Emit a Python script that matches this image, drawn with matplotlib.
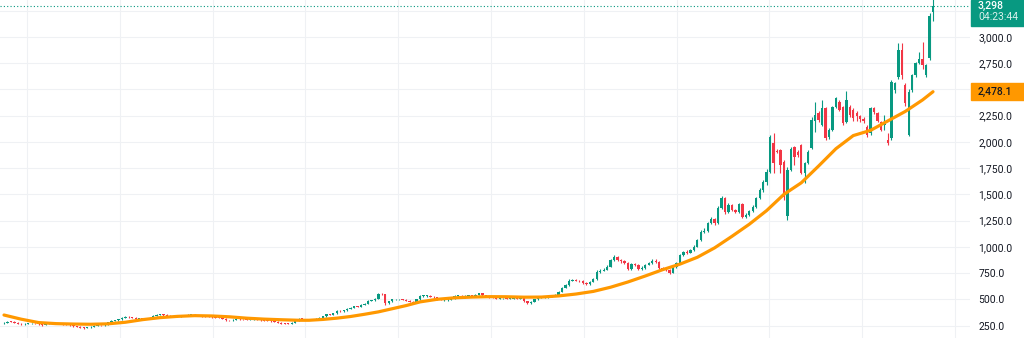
import numpy as np
import matplotlib.pyplot as plt
from matplotlib.patches import Rectangle
from matplotlib.ticker import FuncFormatter

# OHLC candles, oldest first
opens = [
    272, 277, 287, 284, 275, 265, 262, 266, 270, 272, 270, 262, 255, 268, 272, 268, 266, 267, 263, 258,
    253, 245, 239, 230, 227, 233, 236, 249, 253, 251, 262, 280, 296, 300, 310, 322, 332, 329, 322, 316,
    319, 316, 314, 326, 341, 354, 357, 350, 345, 338, 335, 338, 342,
    345, 351, 351, 347, 342, 338, 336, 332, 328, 325, 322, 316, 302, 299, 304, 313, 311, 308, 306, 306,
    308, 306, 301, 297, 294, 292, 287, 275, 268, 267, 266, 274, 294, 313, 311, 306, 304, 310, 316, 325,
    338, 357, 352, 366, 389, 384, 395, 408, 420, 434, 430, 447, 459, 485, 491,
    503, 551, 548, 460, 482, 500, 500, 500, 494, 487, 478, 468, 500, 532, 532, 532, 526, 519, 500, 494,
    494, 494, 510, 532, 532, 519, 532, 538, 532, 545, 557, 538, 526, 519, 513, 506, 510, 510, 506, 506,
    510, 506, 510, 481, 462, 475, 500, 519, 519, 519, 526, 538, 545, 570, 608,
    634, 678, 684, 678, 672, 653, 646, 665, 691, 764, 773, 780, 811, 870, 900, 875, 862, 850, 790, 837,
    827, 786, 800, 830, 849, 868, 860, 800, 786, 780, 755, 805, 843, 919, 951, 945, 970, 1002, 1065, 1145,
    1154, 1225, 1263, 1225, 1370, 1466, 1330, 1400, 1351, 1332, 1409, 1285, 1300, 1340, 1380, 1466,
    1540, 1618, 1716, 1987, 1915, 1923, 1812, 1290, 1732, 1955, 1907, 1971, 1700, 1796, 1940, 2200, 2272,
    2161, 2320, 2044, 2114, 2336, 2384, 2336, 2193, 2336, 2304, 2272, 2247, 2215, 2145, 2082, 2320, 2272,
    2193, 2160, 2018, 2034, 2495, 2622, 2876, 2543, 2066, 2495, 2638, 2749, 2787, 2638, 2797, 3241,
]
highs = [
    283, 292, 293, 289, 279, 270, 271, 275, 277, 277, 275, 266, 273, 277, 277, 273, 272, 271, 268, 262,
    257, 250, 243, 235, 238, 241, 254, 258, 258, 267, 285, 301, 306, 316, 328, 338, 337, 334, 327, 325,
    324, 321, 331, 346, 360, 364, 362, 355, 350, 343, 343, 347, 350,
    356, 357, 356, 352, 347, 343, 341, 337, 333, 330, 327, 320, 307, 309, 318, 318, 316, 313, 312, 313,
    313, 311, 306, 302, 299, 297, 291, 279, 273, 272, 279, 299, 318, 318, 316, 311, 315, 321, 330, 343,
    362, 362, 371, 395, 394, 400, 413, 426, 440, 439, 452, 465, 491, 497, 509,
    560, 556, 553, 488, 506, 506, 506, 505, 499, 492, 483, 505, 538, 538, 538, 537, 531, 524, 505, 500,
    500, 515, 538, 538, 537, 538, 544, 543, 551, 564, 562, 543, 531, 524, 518, 515, 516, 515, 512, 515,
    515, 515, 515, 486, 480, 505, 524, 525, 525, 531, 543, 551, 576, 615, 642,
    690, 695, 692, 686, 680, 660, 672, 700, 775, 790, 795, 822, 885, 925, 910, 885, 872, 858, 845, 848,
    835, 815, 838, 860, 880, 880, 866, 808, 795, 788, 812, 852, 930, 962, 965, 980, 1015, 1075, 1160, 1175,
    1240, 1280, 1275, 1385, 1480, 1475, 1415, 1412, 1365, 1420, 1420, 1320, 1355, 1395, 1475, 1560,
    1640, 1740, 2066, 2085, 1930, 1935, 1830, 1764, 1950, 1960, 1925, 1980, 1810, 1920, 2240, 2384, 2290,
    2400, 2330, 2130, 2345, 2431, 2400, 2345, 2488, 2350, 2320, 2290, 2260, 2240, 2160, 2330, 2330, 2285,
    2200, 2257, 2082, 2590, 2574, 2940, 2940, 2560, 2500, 2650, 2760, 2860, 2955, 2740, 3225, 3360,
]
lows = [
    268, 273, 280, 271, 260, 257, 258, 262, 266, 265, 257, 250, 251, 264, 263, 261, 262, 258, 253, 248,
    240, 234, 225, 221, 222, 229, 232, 245, 246, 247, 258, 276, 291, 296, 305, 318, 324, 317, 311, 311,
    311, 309, 310, 322, 337, 349, 345, 340, 333, 330, 330, 333, 337,
    340, 345, 342, 337, 333, 331, 327, 323, 320, 317, 311, 297, 294, 295, 300, 306, 303, 301, 300, 301,
    301, 296, 292, 289, 287, 282, 270, 263, 262, 261, 262, 270, 290, 306, 301, 299, 300, 306, 312, 321,
    334, 347, 348, 362, 379, 380, 391, 404, 416, 425, 426, 443, 455, 480, 487,
    498, 540, 450, 455, 478, 494, 494, 489, 482, 473, 462, 464, 496, 526, 526, 521, 514, 495, 489, 488,
    488, 490, 506, 526, 514, 514, 527, 527, 527, 540, 533, 521, 514, 508, 501, 501, 504, 501, 500, 501,
    501, 501, 476, 455, 457, 471, 496, 513, 513, 515, 522, 534, 541, 566, 603,
    628, 670, 670, 664, 645, 638, 640, 660, 686, 755, 765, 775, 805, 862, 865, 850, 840, 775, 782, 815,
    775, 776, 792, 822, 840, 850, 792, 775, 770, 745, 750, 800, 838, 912, 935, 938, 962, 995, 1055, 1135,
    1145, 1215, 1210, 1215, 1360, 1315, 1320, 1340, 1320, 1325, 1270, 1270, 1290, 1330, 1370, 1455,
    1520, 1590, 1700, 1700, 1890, 1700, 1446, 1256, 1720, 1780, 1860, 1690, 1605, 1790, 1930, 2090, 2190,
    2150, 2018, 2030, 2100, 2320, 2290, 2160, 2180, 2240, 2200, 2200, 2190, 2180, 2050, 2070, 2270, 2190,
    2100, 2114, 1970, 2018, 2470, 2600, 2600, 2340, 2060, 2480, 2620, 2740, 2690, 2622, 2780, 3155,
]
closes = [
    277, 287, 284, 275, 265, 262, 266, 270, 272, 270, 262, 255, 268, 272, 268, 266, 267, 263, 258, 253,
    245, 239, 230, 227, 233, 236, 249, 253, 251, 262, 280, 296, 300, 310, 322, 332, 329, 322, 316, 319,
    316, 314, 326, 341, 354, 357, 350, 345, 338, 335, 338, 342, 345,
    351, 351, 347, 342, 338, 336, 332, 328, 325, 322, 316, 302, 299, 304, 313, 311, 308, 306, 306, 308,
    306, 301, 297, 294, 292, 287, 275, 268, 267, 266, 274, 294, 313, 311, 306, 304, 310, 316, 325, 338,
    357, 352, 366, 389, 384, 395, 408, 420, 434, 430, 447, 459, 485, 491, 503,
    551, 548, 460, 482, 500, 500, 500, 494, 487, 478, 468, 500, 532, 532, 532, 526, 519, 500, 494, 494,
    494, 510, 532, 532, 519, 532, 538, 532, 545, 557, 538, 526, 519, 513, 506, 510, 510, 506, 506, 510,
    506, 510, 481, 462, 475, 500, 519, 519, 519, 526, 538, 545, 570, 608, 634,
    678, 684, 678, 672, 653, 646, 665, 691, 764, 773, 780, 811, 870, 900, 875, 862, 850, 790, 837, 827,
    786, 800, 830, 849, 868, 860, 800, 786, 780, 755, 805, 843, 919, 951, 945, 970, 1002, 1065, 1145, 1154,
    1225, 1263, 1225, 1370, 1466, 1330, 1400, 1351, 1332, 1409, 1285, 1300, 1340, 1380, 1466, 1540,
    1618, 1716, 2050, 1796, 1900, 1780, 1478, 1732, 1929, 1859, 1875, 1701, 1796, 1907, 2209, 2260, 2209,
    2320, 2034, 2114, 2336, 2415, 2304, 2177, 2400, 2257, 2225, 2247, 2215, 2200, 2066, 2320, 2288, 2200,
    2114, 2180, 1990, 2574, 2558, 2876, 2638, 2368, 2480, 2638, 2749, 2787, 2733, 2733, 3200, 3298,
]

# moving average, sampled at candle indices
ma_idx = [0, 5, 10, 15, 20, 25, 30, 35, 40, 45, 50, 55, 60, 65, 70, 75, 80, 85, 88, 92, 96, 100, 104,
          108, 112, 116, 120, 125, 130, 135, 140, 145, 150, 155, 160, 165, 170, 175, 180, 185, 190, 195,
          200, 205, 210, 215, 220, 225, 230, 235, 240, 245, 250, 255, 260, 265, 268]
ma_val = [350, 310, 278, 268, 264, 262, 266, 281, 306, 325, 337, 344, 341, 333, 320, 311, 305, 300, 300,
          308, 320, 336, 357, 380, 410, 440, 475, 500, 514, 521, 525, 524, 520, 521, 532, 550, 575, 615,
          665, 722, 782, 835, 900, 990, 1100, 1215, 1345, 1500, 1610, 1770, 1935, 2060, 2110, 2200, 2290,
          2400, 2478.1]

grid_prices = list(range(250, 3251, 250))
label_prices = [250, 500, 750, 1000, 1250, 1500, 1750, 2000, 2250, 2750, 3000]
last_price = 3298
countdown = "04:23:44"
ma_last = 2478.1

UP = "#089981"
DOWN = "#F23645"
MA = "#FF9800"
TEXT = "#131722"
GRID = "#eff1f4"

W, H = 1024, 338
plot_w = 970
fig = plt.figure(figsize=(W / 100, H / 100), dpi=100)
ax = fig.add_axes([0, 0, plot_w / W, 1])

o = np.array(opens, dtype=float)
c = np.array(closes, dtype=float)
x = np.arange(len(c))
colors = np.where(c >= o, UP, DOWN)

# candles: wicks then bodies
ax.vlines(x, lows, highs, colors=colors, linewidth=0.8, zorder=2)
body = np.maximum(np.abs(c - o), 6)
ax.bar(x, body, bottom=np.minimum(o, c), width=0.68, color=colors, linewidth=0, zorder=2)

ax.plot(ma_idx, ma_val, color=MA, linewidth=2.3, solid_capstyle="round",
        solid_joinstyle="round", zorder=3)

ax.axhline(last_price, color=UP, linestyle=(0, (1, 2)), linewidth=0.8, zorder=1)

# keep first candle near the left edge, last one near pixel 933
step = 929 / (len(c) - 1)
left = -4 / step
ax.set_xlim(left, left + plot_w / step)
ax.set_ylim(131, 3352)

ax.set_xticks(6.64 + 26.77 * np.arange(11))
ax.set_yticks(grid_prices)
ax.grid(True, color=GRID, linewidth=0.8)
ax.set_axisbelow(True)
ax.yaxis.tick_right()
ax.yaxis.set_major_formatter(
    FuncFormatter(lambda v, _: f"{v:,.1f}" if round(v) in label_prices else ""))
ax.tick_params(axis="y", length=0, pad=6, labelsize=7.5, labelcolor=TEXT)
ax.tick_params(axis="x", length=0, labelbottom=False)
for lbl in ax.get_yticklabels():
    lbl.set_family("Roboto")
for s in ax.spines.values():
    s.set_visible(False)

# price tags on the scale
to_fig = fig.transFigure.inverted()


def fig_y(price):
    return to_fig.transform(ax.transData.transform((0, price)))[1]


box_x = 971 / W
box_w = (W - 971) / W
line_h = 17 / H

y_last = fig_y(last_price)
box_bottom = y_last - 20 / H
fig.add_artist(Rectangle((box_x, box_bottom), box_w, 1 - box_bottom,
                         transform=fig.transFigure, color=UP, zorder=5))
fig.text(978 / W, y_last, f"{last_price:,}", color="white", fontsize=7.5,
         family="Roboto", fontweight="medium", va="center", ha="left", zorder=6)
fig.text(978 / W, y_last - 11.5 / H, countdown, color="white", alpha=0.85, fontsize=7.5,
         family="Roboto", va="center", ha="left", zorder=6)

y_ma = fig_y(ma_last)
fig.add_artist(Rectangle((box_x, y_ma - line_h / 2), box_w, line_h,
                         transform=fig.transFigure, color=MA, zorder=5))
fig.text(978 / W, y_ma, f"{ma_last:,.1f}", color=TEXT, fontsize=7.5, family="Roboto",
         fontweight="medium", va="center", ha="left", zorder=6)

fig.savefig("out.png", dpi=100, facecolor="white")
